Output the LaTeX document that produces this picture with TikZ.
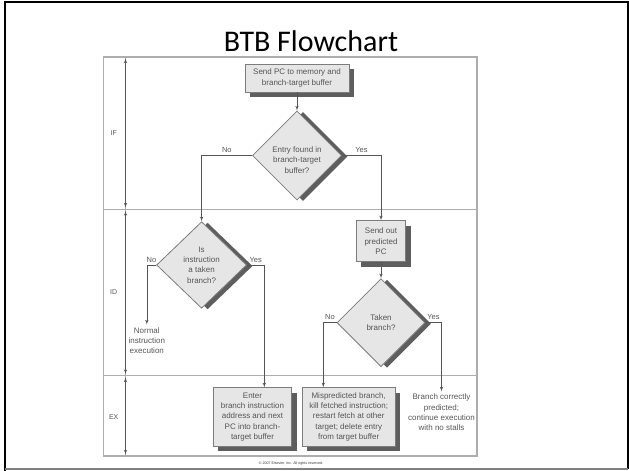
\documentclass[tikz,border=0pt]{standalone}
\usepackage{fontspec}
\setmainfont{Liberation Sans}
\newfontfamily\titlefont{Carlito}
\usetikzlibrary{shapes.geometric, arrows, shadows}
\definecolor{framegray}{HTML}{ADADAD}
\definecolor{boxgray}{HTML}{E6E6E6}
\definecolor{edgegray}{HTML}{7C7C7C}
\definecolor{shadegray}{HTML}{5E5E5E}
\definecolor{inkgray}{HTML}{555555}
\tikzset{
	chartnode/.style = {text centered, align=center, draw=edgegray, fill=boxgray, line width=0.8bp, text=inkgray, font=\fontsize{8bp}{10.3bp}\selectfont, inner sep=0pt},
	process/.style = {rectangle, chartnode, drop shadow={shadow xshift=5bp, shadow yshift=-5bp, fill=shadegray, opacity=1}},
	decision/.style = {diamond, aspect=1, chartnode, drop shadow={shadow xshift=6bp, shadow yshift=-1bp, fill=shadegray, opacity=1}},
	plain/.style = {align=center, text=inkgray, font=\fontsize{8bp}{10.3bp}\selectfont, inner sep=2.5bp},
	answer/.style = {text=inkgray, font=\fontsize{7.5bp}{9bp}\selectfont, inner sep=2.5bp},
	stage/.style = {text=inkgray, font=\fontsize{7bp}{8bp}\selectfont, inner sep=0pt},
	line/.style = {draw=inkgray, line width=0.6bp, -latex'},
	lane/.style = {draw=framegray, line width=1.2bp},
	span/.style = {draw=inkgray, line width=0.6bp, latex'-latex'}
}

\begin{document}
\begin{tikzpicture}[x=1bp, y=-1bp]
		\useasboundingbox (0,0) rectangle (629,471);
		%slide frame and title
		\draw [black, line width=2bp] (5,471) -- (5,2) -- (627.5,2) -- (627.5,469);
		\draw [gray, line width=1.5bp] (5,469) -- (627.5,469);
		\node (title) [inner sep=0pt, font=\titlefont\fontsize{30bp}{36bp}\selectfont] at (311,41.5) {BTB Flowchart};

		%stage lanes
		\draw [lane] (103.6,57) rectangle (477,456);
		\draw [lane] (103.6,209.3) -- (477,209.3);
		\draw [lane] (103.6,375.7) -- (477,375.7);
		\draw [lane] (125.5,57) -- (125.5,456);
		\draw [span] (125.5,58.5) -- (125.5,207.5);
		\draw [span] (125.5,211) -- (125.5,374);
		\draw [span] (125.5,377.5) -- (125.5,454.5);
		\node (ifstage) [stage] at (113.7,132.7) {IF};
		\node (idstage) [stage] at (113.7,292) {ID};
		\node (exstage) [stage] at (113.7,417) {EX};

		%shapes of the chart
		\node (sendpc) [process, minimum width=104bp, minimum height=28bp] at (297,78) {Send PC to memory and\\branch-target buffer};
		\node (entry) [decision, minimum width=89bp, minimum height=89bp] at (297,155.5) {};
		\node (entrytext) [plain, inner sep=0pt] at (297,160) {Entry found in\\branch-target\\buffer?};
		\node (istaken) [decision, minimum width=90bp, minimum height=86.6bp] at (201.6,265) {Is\\instruction\\a taken\\branch?};
		\node (normal) [plain] at (146.8,340.5) {Normal\\instruction\\execution};
		\node (predpc) [process, minimum width=49.3bp, minimum height=41bp] at (381,241.2) {Send out\\predicted\\PC};
		\node (takenbr) [decision, minimum width=88bp, minimum height=88bp] at (381,322.7) {Taken\\branch?};
		\node (enter) [process, minimum width=78.4bp, minimum height=58.3bp] at (252.5,416.9) {Enter\\branch instruction\\address and next\\PC into branch-\\target buffer};
		\node (mispred) [process, minimum width=93.3bp, minimum height=58.3bp] at (348.7,416.9) {Mispredicted branch,\\kill fetched instruction;\\restart fetch at other\\target; delete entry\\from target buffer};
		\node (correct) [plain] at (441.5,412.5) {Branch correctly\\predicted;\\continue execution\\with no stalls};
		\node (copyright) [inner sep=0pt, text=black!80, font=\fontsize{3.6bp}{4bp}\selectfont] at (291,464) {\textcopyright\ 2007 Elsevier, Inc. All rights reserved.};

		%connections
		\path [line] (sendpc) -- (entry);
		\path [line] (entry.west) -| node[answer, pos=0.25, above] {No} (istaken.north);
		\path [line] (entry.east) -| node[answer, pos=0.25, above] {Yes} (predpc.north);
		\path [line] (istaken.west) -| node[answer, pos=0.25, above] {No} (normal.north);
		\path [line] (istaken.east) -| node[answer, pos=0.25, above] {Yes} ([xshift=11.8bp]enter.north);
		\path [line] (predpc) -- (takenbr);
		\path [line] (takenbr.west) -| node[answer, pos=0.25, above] {No} ([xshift=-25.4bp]mispred.north);
		\path [line] (takenbr.east) -| node[answer, pos=0.25, above] {Yes} (correct.north);
\end{tikzpicture}
\end{document}
